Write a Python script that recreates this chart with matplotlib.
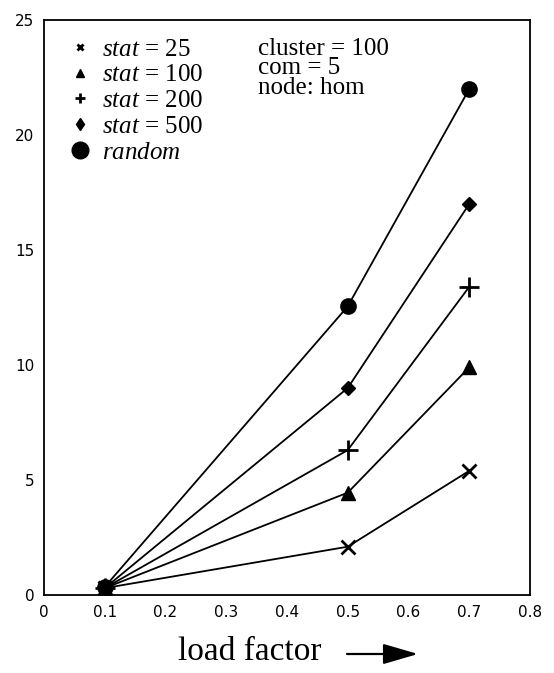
import matplotlib
matplotlib.use("Agg")
import matplotlib.pyplot as plt
from matplotlib.lines import Line2D

# =====================
# data
# =====================
load = [0.1, 0.5, 0.7]
stat25 = [0.3, 2.1, 5.4]
stat100 = [0.3, 4.45, 9.9]
stat200 = [0.3, 6.3, 13.4]
stat500 = [0.3, 9.0, 17.0]
random_ = [0.35, 12.55, 22.0]

x_ticks = [0, 0.1, 0.2, 0.3, 0.4, 0.5, 0.6, 0.7, 0.8]
y_ticks = [0, 5, 10, 15, 20, 25]

legend_labels = [r"$stat$ = 25", r"$stat$ = 100", r"$stat$ = 200",
                 r"$stat$ = 500", r"$random$"]
note = "cluster = 100\ncom = 5\nnode: hom"

# =====================
# fonts
# =====================
plt.rcParams["mathtext.fontset"] = "custom"
plt.rcParams["mathtext.rm"] = "Liberation Serif"
plt.rcParams["mathtext.it"] = "Liberation Serif:italic"
SERIF = "Liberation Serif"

fig = plt.figure(figsize=(5.54, 6.73), dpi=100)
W, H = 554, 673
ax = fig.add_axes([44 / W, 1 - 595 / H, (530 - 44) / W, (595 - 20) / H])

lw = 1.3
ax.plot(load, stat25, color="k", lw=lw, marker="x", ms=10, mew=2)
ax.plot(load, stat100, color="k", lw=lw, marker="^", ms=10)
ax.plot(load, stat200, color="k", lw=lw, marker="+", ms=14, mew=2)
ax.plot(load, stat500, color="k", lw=lw, marker="D", ms=7.5)
ax.plot(load, random_, color="k", lw=lw, marker="o", ms=11)

ax.set_xlim(0, 0.8)
ax.set_ylim(0, 25)
ax.set_xticks(x_ticks)
ax.set_xticklabels(["0", "0.1", "0.2", "0.3", "0.4", "0.5", "0.6", "0.7", "0.8"])
ax.set_yticks(y_ticks)
ax.tick_params(length=0, labelsize=11, pad=7)
for s in ax.spines.values():
    s.set_linewidth(1.3)

# legend (small markers like the original)
handles = [
    Line2D([], [], ls="none", color="k", marker="x", ms=5, mew=2),
    Line2D([], [], ls="none", color="k", marker="^", ms=6),
    Line2D([], [], ls="none", color="k", marker="+", ms=7, mew=2),
    Line2D([], [], ls="none", color="k", marker="d", ms=6),
    Line2D([], [], ls="none", color="k", marker="o", ms=12),
]
ax.legend(handles, legend_labels, loc="upper left",
          bbox_to_anchor=(0.012, 0.999), frameon=False,
          prop={"family": SERIF, "size": 18},
          handlelength=1.0, handletextpad=0.4, labelspacing=0.13,
          borderaxespad=0.3)

ax.text((258 - 44) / 486, 1 - (38 - 20) / 575, note, transform=ax.transAxes,
        ha="left", va="top", family=SERIF, fontsize=18, linespacing=0.85)

# x label with arrow
fig.text(250 / W, 1 - 652 / H, "load factor", ha="center", va="center",
         family=SERIF, fontsize=24)
ax.annotate("", xy=(418 / W, 1 - 654 / H), xytext=(347 / W, 1 - 654 / H),
            xycoords="figure fraction", textcoords="figure fraction",
            arrowprops=dict(arrowstyle="-|>,head_length=1.2,head_width=0.35",
                            color="k", lw=1.6, shrinkA=0, shrinkB=0,
                            mutation_scale=18))

fig.savefig("out.png", dpi=100)
